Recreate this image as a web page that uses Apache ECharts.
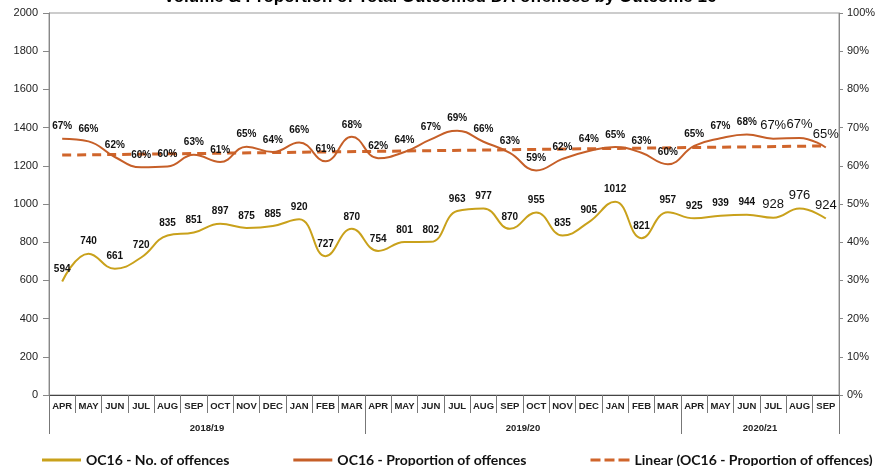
<!DOCTYPE html>
<html>
<head>
<meta charset="utf-8">
<script src="https://cdn.jsdelivr.net/npm/echarts@6/dist/echarts.min.js"></script>
<style>html,body{margin:0;padding:0;background:#fff}#c{width:880px;height:466px}</style>
</head>
<body>
<div id="c"></div>
<script>
var months = ['APR','MAY','JUN','JUL','AUG','SEP','OCT','NOV','DEC','JAN','FEB','MAR',
              'APR','MAY','JUN','JUL','AUG','SEP','OCT','NOV','DEC','JAN','FEB','MAR',
              'APR','MAY','JUN','JUL','AUG','SEP'];
var yearLabels = ['2018/19','2019/20','2020/21'];
var yearMonths = [12, 12, 6];
var offences = [594,740,661,720,835,851,897,875,885,920,727,870,
                754,801,802,963,977,870,955,835,905,1012,821,957,
                925,939,944,928,976,924];
var proportion = [67.1,66.4,62.3,59.6,59.8,62.9,61.0,65.0,63.6,66.1,61.2,67.6,
                  62.0,63.6,66.9,69.2,66.3,63.4,58.8,61.8,63.9,64.9,63.4,60.4,
                  65.2,67.2,68.2,67.1,67.3,64.8];
var trendStart = 62.8, trendEnd = 65.2;
var bigLabelFrom = 27;

var GOLD = '#C9A11B', RUST = '#C65F28', TREND = '#D0652B';

var yearCats = [], yearTicks = {}, yearLabelPos = {};
var pos = 0;
yearTicks[0] = true;
for (var y = 0; y < yearLabels.length; y++) {
  yearLabelPos[pos + yearMonths[y]] = yearLabels[y];
  pos += yearMonths[y] * 2;
  yearTicks[pos] = true;
}
for (var k = 0; k <= pos; k++) yearCats.push(yearLabelPos[k] || '');

var trendData = offences.map(function(){return null;});
trendData[0] = trendStart; trendData[trendData.length-1] = trendEnd;

function lbl(arr) {
  return arr.map(function(v, i){
    var o = {value: v};
    if (i >= bigLabelFrom) o.label = {fontSize: 13, fontWeight: 'normal'};
    return o;
  });
}

var SOLID = 'path://M0,0h39v3h-39z';
var DASH = 'path://M0,0h10v3h-10z M14,0h10v3h-10z M28,0h11v3h-11z';

var chart = echarts.init(document.getElementById('c'));
chart.setOption({
  animation: false,
  title: {
    text: 'Volume & Proportion of Total Outcomed DA offences by Outcome 16',
    left: 'center', top: -16,
    textStyle: {fontFamily: 'Liberation Sans', fontSize: 17, fontWeight: 'bold', color: '#000'}
  },
  grid: {left: 49, right: 41, top: 13, bottom: 71, show: true, borderColor: '#999', borderWidth: 1},
  legend: {
    left: 37, top: 448, itemGap: 64, itemWidth: 39, itemHeight: 3,
    textStyle: {fontFamily: 'Lato', fontSize: 14, fontWeight: 'bold', color: '#111'},
    data: [
      {name: 'OC16 - No. of offences', icon: SOLID},
      {name: 'OC16 - Proportion of offences', icon: SOLID},
      {name: 'Linear (OC16 - Proportion of offences)', icon: DASH}
    ]
  },
  xAxis: [{
    type: 'category', data: months, boundaryGap: true, position: 'bottom',
    axisLine: {lineStyle: {color: '#444', width: 1}},
    axisTick: {show: true, interval: 0, length: 18, lineStyle: {color: '#777'}},
    axisLabel: {interval: 0, margin: 6, fontFamily: 'Liberation Sans', fontSize: 9.5, fontWeight: 'bold', color: '#222'},
    splitLine: {show: false}
  }, {
    type: 'category', data: yearCats, boundaryGap: false, position: 'bottom',
    axisLine: {show: false},
    axisTick: {show: true, length: 39, interval: function(i){return !!yearTicks[i];}, lineStyle: {color: '#777'}},
    axisLabel: {interval: function(i){return yearCats[i] !== '';}, margin: 28, fontFamily: 'Liberation Sans', fontSize: 9.5, fontWeight: 'bold', color: '#222'},
    splitLine: {show: false}
  }],
  yAxis: [{
    type: 'value', min: 0, max: 2000, interval: 200, position: 'left',
    axisLine: {show: true, lineStyle: {color: '#888'}},
    axisTick: {show: true, length: 6, lineStyle: {color: '#888'}},
    axisLabel: {margin: 11, formatter: function(v){return String(v);}, fontFamily: 'Liberation Sans', fontSize: 11, color: '#222'},
    splitLine: {show: false}
  }, {
    type: 'value', min: 0, max: 100, interval: 10, position: 'right',
    axisLine: {show: true, lineStyle: {color: '#888'}},
    axisTick: {show: true, length: 4, lineStyle: {color: '#888'}},
    axisLabel: {margin: 8, formatter: '{value}%', fontFamily: 'Liberation Sans', fontSize: 11, color: '#222'},
    splitLine: {show: false}
  }],
  series: [{
    name: 'OC16 - No. of offences', type: 'line', xAxisIndex: 0, yAxisIndex: 0,
    data: lbl(offences), smooth: 0.45, symbol: 'circle', symbolSize: 0, showSymbol: true, z: 3,
    lineStyle: {color: GOLD, width: 2}, itemStyle: {color: GOLD},
    label: {show: true, position: 'top', distance: 7, fontFamily: 'Liberation Sans', fontSize: 10, fontWeight: 'bold', color: '#111'}
  }, {
    name: 'OC16 - Proportion of offences', type: 'line', xAxisIndex: 0, yAxisIndex: 1,
    data: lbl(proportion), smooth: 0.45, symbol: 'circle', symbolSize: 0, showSymbol: true, z: 3,
    lineStyle: {color: RUST, width: 2}, itemStyle: {color: RUST},
    label: {show: true, position: 'top', distance: 7, fontFamily: 'Liberation Sans', fontSize: 10, fontWeight: 'bold', color: '#111',
      formatter: function(p){return Math.round(p.value) + '%';}}
  }, {
    name: 'Linear (OC16 - Proportion of offences)', type: 'line', xAxisIndex: 0, yAxisIndex: 1,
    data: trendData, connectNulls: true, symbol: 'none', z: 2,
    lineStyle: {color: TREND, width: 3, type: [9, 6]}, itemStyle: {color: TREND}
  }]
});
</script>
</body>
</html>
